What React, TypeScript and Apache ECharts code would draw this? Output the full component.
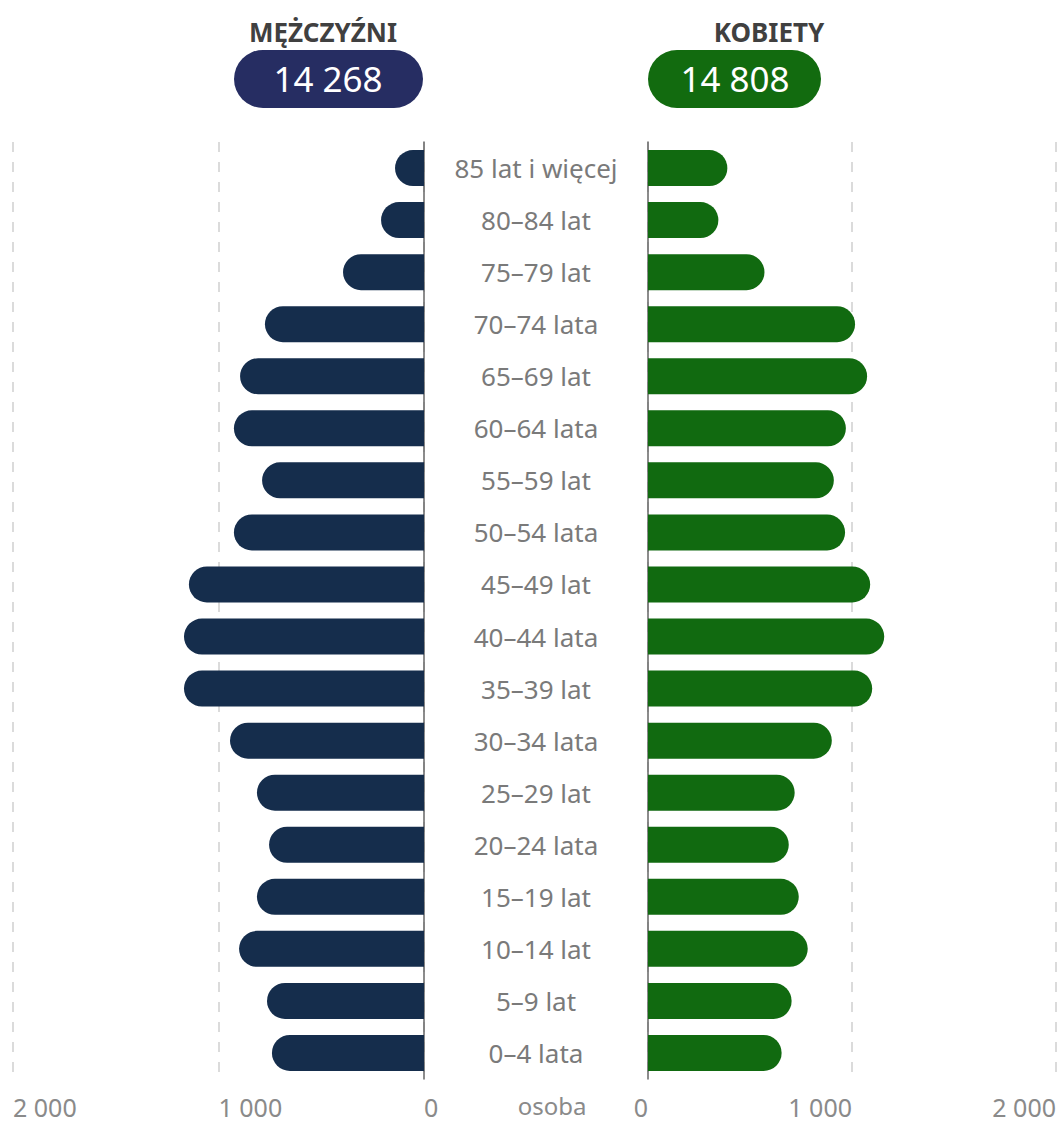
import React, { useEffect, useRef } from "react";
import * as echarts from "echarts";

const categories = [
  "85 lat i więcej", "80–84 lat", "75–79 lat", "70–74 lata", "65–69 lat", "60–64 lata",
  "55–59 lat", "50–54 lata", "45–49 lat", "40–44 lata", "35–39 lat", "30–34 lata",
  "25–29 lat", "20–24 lata", "15–19 lat", "10–14 lat", "5–9 lat", "0–4 lata",
];
const men = [141, 209, 394, 774, 895, 925, 788, 925, 1144, 1168, 1168, 944, 813, 754, 813, 900, 764, 740];
const women = [389, 345, 571, 1015, 1074, 970, 911, 966, 1089, 1158, 1099, 901, 719, 690, 739, 783, 704, 655];
const menLabel = "MĘŻCZYŹNI";
const womenLabel = "KOBIETY";
const menTotal = "14 268";
const womenTotal = "14 808";
const unitLabel = "osoba";

const FONT = "'Noto Sans', 'Open Sans', sans-serif";
const fmt = (v: number) => (v >= 1000 ? String(v).replace(/\B(?=(\d{3})+(?!\d))/g, " ") : String(v));

export default function App() {
  const ref = useRef<HTMLDivElement>(null);
  useEffect(() => {
    if (!ref.current) return;
    const chart = echarts.init(ref.current, undefined, { renderer: "svg" });
    const gridTop = 142;
    const gridBottom = 43;
    const axisLabelStyle = { color: "#8a8a8a", fontSize: 25, fontFamily: FONT, margin: 15 };
    chart.setOption({
      animation: false,
      grid: [
        { left: 13, width: 411, top: gridTop, bottom: gridBottom },
        { left: 648, width: 408, top: gridTop, bottom: gridBottom },
      ],
      xAxis: [
        {
          gridIndex: 0, type: "value", inverse: true, min: 0, max: 2000, interval: 1000,
          axisLine: { show: false }, axisTick: { show: false },
          splitLine: { show: true, lineStyle: { type: [10, 10], color: "#cfcfcf", width: 1.5 } },
          axisLabel: { ...axisLabelStyle, align: "left", formatter: fmt },
        },
        {
          gridIndex: 1, type: "value", min: 0, max: 2000, interval: 1000,
          axisLine: { show: false }, axisTick: { show: false },
          splitLine: { show: true, lineStyle: { type: [10, 10], color: "#cfcfcf", width: 1.5 } },
          axisLabel: { ...axisLabelStyle, align: "right", formatter: fmt },
        },
      ],
      yAxis: [
        {
          gridIndex: 0, type: "category", data: categories, inverse: true, position: "right",
          axisLine: { show: true, lineStyle: { color: "#666", width: 1.5 } },
          axisTick: { show: false },
          axisLabel: { color: "#7a7a7a", fontSize: 26, fontFamily: FONT, align: "center", margin: 112 },
        },
        {
          gridIndex: 1, type: "category", data: categories, inverse: true, position: "left",
          axisLine: { show: true, lineStyle: { color: "#666", width: 1.5 } },
          axisTick: { show: false },
          axisLabel: { show: false },
        },
      ],
      series: [
        {
          type: "bar", xAxisIndex: 0, yAxisIndex: 0, data: men, barWidth: 36,
          itemStyle: { color: "#152d4c", borderRadius: [18, 0, 0, 18] },
        },
        {
          type: "bar", xAxisIndex: 1, yAxisIndex: 1, data: women, barWidth: 36,
          itemStyle: { color: "#116a10", borderRadius: [0, 18, 18, 0] },
        },
      ],
      graphic: [
        {
          type: "text", x: 323, y: 32,
          style: { text: menLabel, fill: "#404040", font: `bold 26px ${FONT}`, align: "center", verticalAlign: "middle" },
        },
        {
          type: "text", x: 769, y: 32,
          style: { text: womenLabel, fill: "#404040", font: `bold 26px ${FONT}`, align: "center", verticalAlign: "middle" },
        },
        {
          type: "rect", shape: { x: 234, y: 50, width: 189, height: 58, r: 29 },
          style: { fill: "#262d62" },
        },
        {
          type: "rect", shape: { x: 648, y: 50, width: 173, height: 58, r: 29 },
          style: { fill: "#126b0f" },
        },
        {
          type: "text", x: 328, y: 78,
          style: { text: menTotal, fill: "#ffffff", font: `35px ${FONT}`, align: "center", verticalAlign: "middle" },
        },
        {
          type: "text", x: 735, y: 78,
          style: { text: womenTotal, fill: "#ffffff", font: `35px ${FONT}`, align: "center", verticalAlign: "middle" },
        },
        {
          type: "text", x: 552, y: 1105,
          style: { text: unitLabel, fill: "#8a8a8a", font: `24px ${FONT}`, align: "center", verticalAlign: "middle" },
        },
      ],
    });
    return () => chart.dispose();
  }, []);
  return <div ref={ref} style={{ width: 1059, height: 1122, position: "absolute", left: 0, top: 0 }} />;
}
